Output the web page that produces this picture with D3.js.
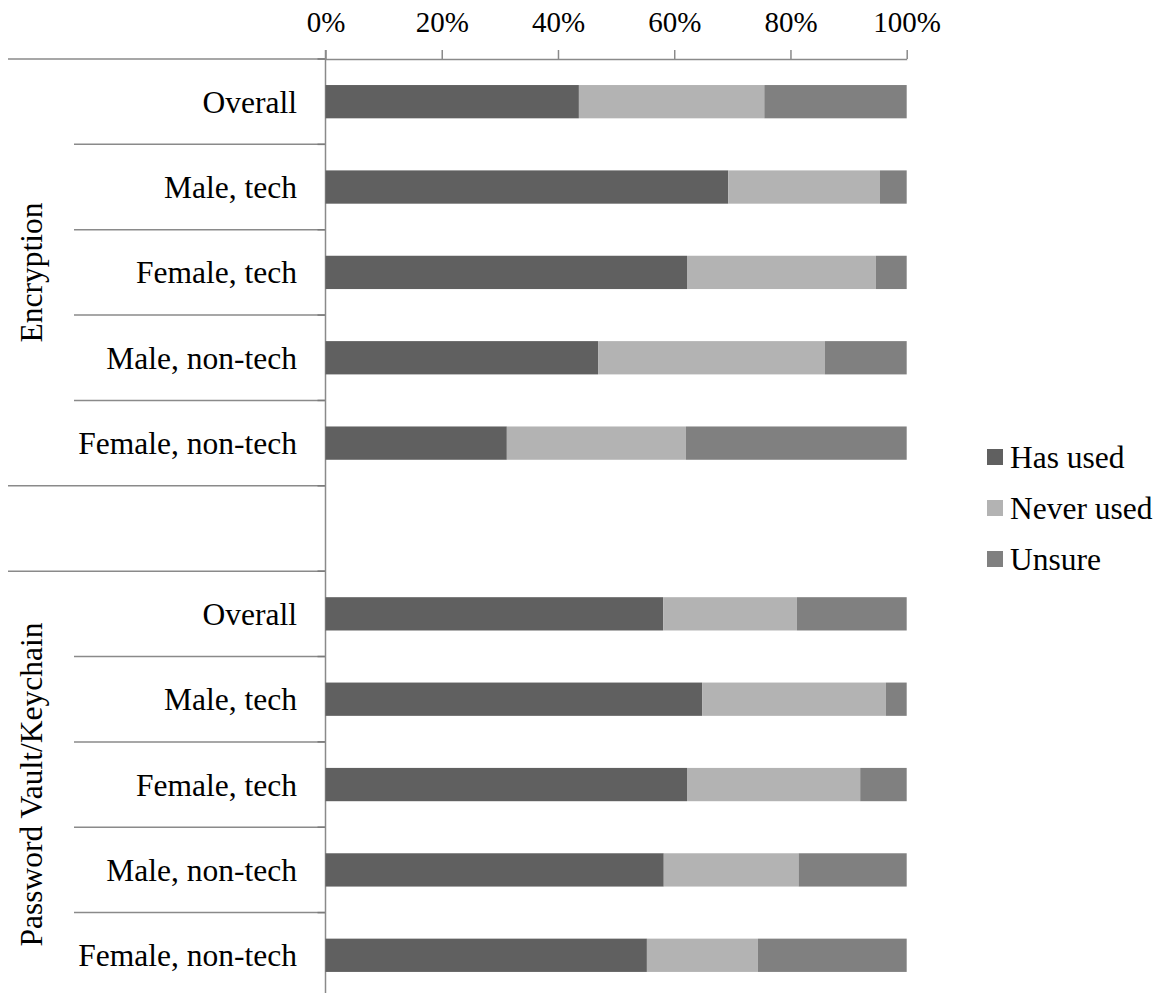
<!DOCTYPE html>
<html>
<head>
<meta charset="utf-8">
<script src="https://cdn.jsdelivr.net/npm/d3@7"></script>
<style>
  html, body { margin: 0; padding: 0; background: #fff; }
  svg { display: block; }
</style>
</head>
<body>
<svg id="chart" width="1162" height="993"></svg>
<script>
// ---- data ----
const groups = ["Encryption", "Password Vault/Keychain"];
const categories = ["Overall", "Male, tech", "Female, tech", "Male, non-tech", "Female, non-tech"];
const seriesNames = ["Has used", "Never used", "Unsure"];
const seriesColors = ["#606060", "#b3b3b3", "#808080"];

const encHasUsed   = [43.6, 69.3, 62.2, 46.9, 31.2];
const encNeverUsed = [31.9, 26.1, 32.5, 39.0, 30.8];
const encUnsure    = [24.5,  4.6,  5.3, 14.1, 38.0];

const pwHasUsed    = [58.1, 64.8, 62.2, 58.2, 55.3];
const pwNeverUsed  = [23.0, 31.6, 29.8, 23.2, 19.1];
const pwUnsure     = [18.9,  3.6,  8.0, 18.6, 25.6];

const xTicks = [0, 20, 40, 60, 80, 100];

const FONT = "Liberation Serif, Tinos, Times New Roman, Times, Noto Serif, Noto Serif CJK SC, FreeSerif, Nimbus Roman, TeX Gyre Termes, DejaVu Serif, serif";

// ---- build rows (with blank separator row between groups) ----
const rows = [];
const groupSeries = [
  [encHasUsed, encNeverUsed, encUnsure],
  [pwHasUsed, pwNeverUsed, pwUnsure]
];
groups.forEach((g, gi) => {
  categories.forEach((c, ci) => {
    rows.push({ id: gi + "-" + ci, group: g, cat: c,
      vals: groupSeries[gi].map(s => s[ci]) });
  });
  if (gi < groups.length - 1) rows.push({ id: "blank" + gi, group: null, cat: "", vals: null });
});

// ---- layout ----
const svg = d3.select("#chart");
const x0 = 325.5, x1 = 906.7;
const yTop = 59, step = 85.36;
const x = d3.scaleLinear().domain([0, 100]).range([x0, x1]);
const y = d3.scaleBand().domain(rows.map(r => r.id)).range([yTop, yTop + step * rows.length]).padding(0);
const barH = y.bandwidth() * 0.39;
const lineColor = "#8a8a8a";

// separators
const sepG = svg.append("g");
rows.forEach((r, i) => {
  const yy = y(r.id);
  const prev = rows[i - 1];
  const full = i === 0 || r.group === null || (prev && prev.group === null);
  sepG.append("line")
    .attr("x1", full ? 8 : 74).attr("x2", x0)
    .attr("y1", yy).attr("y2", yy)
    .attr("stroke", lineColor).attr("stroke-width", 1.5);
  sepG.append("line")
    .attr("x1", x0 - 8).attr("x2", x0)
    .attr("y1", yy).attr("y2", yy)
    .attr("stroke", "#7a7a7a").attr("stroke-width", 1.5);
});

// vertical axis
svg.append("line")
  .attr("x1", x0).attr("x2", x0)
  .attr("y1", yTop - 9).attr("y2", yTop + step * rows.length)
  .attr("stroke", lineColor).attr("stroke-width", 1.5);

// bars
const barG = svg.append("g");
rows.filter(r => r.vals).forEach(r => {
  let cum = 0;
  r.vals.forEach((v, si) => {
    barG.append("rect")
      .attr("x", x(cum))
      .attr("y", y(r.id) + (y.bandwidth() - barH) / 2)
      .attr("width", x(cum + v) - x(cum))
      .attr("height", barH)
      .attr("fill", seriesColors[si]);
    cum += v;
  });
});

// x axis (top)
const xAxis = svg.append("g")
  .attr("transform", `translate(0,${yTop})`)
  .call(d3.axisTop(x).tickValues(xTicks).tickSize(9).tickSizeOuter(0).tickFormat(d => d + "%"));
xAxis.attr("font-family", FONT).attr("font-size", 29);
xAxis.select(".domain").attr("stroke", lineColor).attr("stroke-width", 1.5);
xAxis.selectAll(".tick line").attr("stroke", lineColor).attr("stroke-width", 1.5);
xAxis.selectAll(".tick text")
  .attr("y", -27).attr("dy", 0)
  .attr("font-family", FONT)
  .attr("font-size", 29).attr("fill", "#000");

// category labels
svg.append("g").selectAll("text")
  .data(rows.filter(r => r.vals))
  .join("text")
  .attr("x", 297)
  .attr("y", r => y(r.id) + y.bandwidth() / 2 + 11)
  .attr("text-anchor", "end")
  .attr("font-family", FONT)
  .attr("font-size", 31.5)
  .text(r => r.cat);

// group labels (rotated)
groups.forEach(g => {
  const gr = rows.filter(r => r.group === g);
  const top = y(gr[0].id), bot = y(gr[gr.length - 1].id) + y.bandwidth();
  const cy = (top + bot) / 2;
  svg.append("text")
    .attr("transform", `translate(42,${cy}) rotate(-90)`)
    .attr("text-anchor", "middle")
    .attr("font-family", FONT)
    .attr("font-size", 31.5)
    .text(g);
});

// legend
const leg = svg.append("g");
seriesNames.forEach((s, i) => {
  const cy = 457 + i * 51;
  leg.append("rect").attr("x", 987).attr("y", cy - 8).attr("width", 16).attr("height", 16)
    .attr("fill", seriesColors[i]);
  leg.append("text").attr("x", 1010).attr("y", cy + 10.5)
    .attr("font-family", FONT)
    .attr("font-size", 31.5).text(s);
});
</script>
</body>
</html>
